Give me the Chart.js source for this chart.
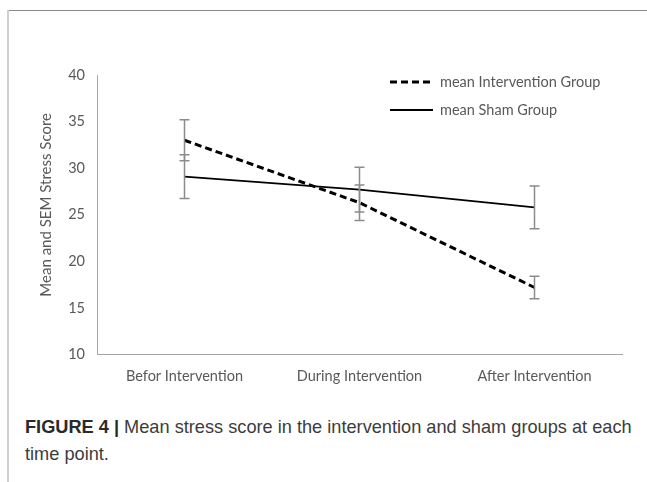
<!DOCTYPE html>
<html>
<head>
<meta charset="utf-8">
<script src="https://cdn.jsdelivr.net/npm/chart.js@4/dist/chart.umd.min.js"></script>
<style>
  html, body { margin: 0; padding: 0; background: #fff; }
  #wrap { position: relative; width: 647px; height: 482px; overflow: hidden; }
  #frameTop { position: absolute; left: 8px; top: 10px; width: 639px; height: 1px; background: #8a8a8a; }
  #frameLeft { position: absolute; left: 7px; top: 10px; width: 2px; height: 472px; background: #cfcfcf; }
  #chart { position: absolute; left: 0; top: 0; }
  #caption { position: absolute; left: 25px; top: 414px; width: 616px; font-family: "Liberation Sans Narrow", "Liberation Sans", Arial, sans-serif; font-size: 18.2px; line-height: 27px; color: #3c3c3c; }
  #caption b { color: #2a2a2a; }
</style>
</head>
<body>
<div id="wrap">
  <div id="frameTop"></div>
  <div id="frameLeft"></div>
  <canvas id="chart" width="647" height="400"></canvas>
  <div id="caption"><b>FIGURE 4 |</b> Mean stress score in the intervention and sham groups at each time point.</div>
</div>
<script>
// categories (time points)
var timePoints = ["Befor Intervention", "During Intervention", "After Intervention"];

// means and SEM
var interventionMean = [33.0, 26.3, 17.2];
var interventionSem = [2.2, 1.9, 1.2];
var shamMean = [29.1, 27.7, 25.8];
var shamSem = [2.35, 2.4, 2.3];

var yTicks = [10, 15, 20, 25, 30, 35, 40];
var yTitle = "Mean and SEM Stress Score";

var textColor = "#595959";
var fontFamily = "Lato, 'Open Sans', sans-serif";

// error bars drawn through the chart scales
var errorBars = {
  id: "errorBars",
  afterDatasetsDraw: function(chart) {
    var ctx = chart.ctx;
    var xs = chart.scales.x, ys = chart.scales.y;
    var sets = [[interventionMean, interventionSem], [shamMean, shamSem]];
    ctx.save();
    ctx.strokeStyle = "#8c8c8c";
    ctx.lineWidth = 1.5;
    sets.forEach(function(s) {
      s[0].forEach(function(m, i) {
        var x = xs.getPixelForValue(i);
        var yTop = ys.getPixelForValue(m + s[1][i]);
        var yBot = ys.getPixelForValue(m - s[1][i]);
        ctx.beginPath();
        ctx.moveTo(x, yTop); ctx.lineTo(x, yBot);
        ctx.moveTo(x - 5, yTop); ctx.lineTo(x + 5, yTop);
        ctx.moveTo(x - 5, yBot); ctx.lineTo(x + 5, yBot);
        ctx.stroke();
      });
    });
    ctx.restore();
  }
};

// legend placed inside the plot, top right, plus the y axis title
var lineLegend = {
  id: "lineLegend",
  afterDraw: function(chart) {
    var ctx = chart.ctx;
    ctx.save();
    chart.data.datasets.forEach(function(ds, i) {
      var y = 82 + i * 28;
      ctx.beginPath();
      ctx.strokeStyle = ds.borderColor;
      ctx.lineWidth = ds.borderWidth;
      ctx.setLineDash(ds.borderDash || []);
      ctx.moveTo(390, y); ctx.lineTo(433, y);
      ctx.stroke();
      ctx.setLineDash([]);
      ctx.fillStyle = textColor;
      ctx.font = "14.5px " + fontFamily;
      ctx.textBaseline = "middle";
      ctx.fillText(ds.label, 440, y);
    });
    // y title, a bit above the plot centre as in the original
    var area = chart.chartArea;
    ctx.translate(46, (area.top + area.bottom) / 2 - 10);
    ctx.rotate(-Math.PI / 2);
    ctx.font = "15px " + fontFamily;
    ctx.fillStyle = textColor;
    ctx.textAlign = "center";
    ctx.textBaseline = "middle";
    ctx.fillText(yTitle, 0, 0);
    ctx.restore();
  }
};

var data = {
  labels: timePoints,
  datasets: [
    {
      label: "mean Intervention Group",
      data: interventionMean,
      borderColor: "#000",
      borderWidth: 3,
      borderDash: [7, 4],
      fill: false,
      lineTension: 0,
      pointRadius: 0
    },
    {
      label: "mean Sham Group",
      data: shamMean,
      borderColor: "#000",
      borderWidth: 1.8,
      fill: false,
      lineTension: 0,
      pointRadius: 0
    }
  ]
};

var options = {
  responsive: false,
  animation: false,
  layout: { padding: { left: 37, right: 25, top: 75, bottom: 2 } },
  plugins: {
    legend: { display: false },
    tooltip: { enabled: false }
  },
  scales: {
    x: {
      offset: true,
      grid: { display: false, drawTicks: false },
      border: { display: true, color: "#a6a6a6", width: 1 },
      ticks: { color: textColor, font: { family: fontFamily, size: 14.5 }, padding: 13, maxRotation: 0 }
    },
    y: {
      min: 10,
      max: 40,
      afterBuildTicks: function(scale) {
        scale.ticks = yTicks.map(function(v) { return { value: v }; });
      },
      afterFit: function(scale) { scale.width = 60; },
      grid: { display: false, drawTicks: false },
      border: { display: true, color: "#a6a6a6", width: 1 },
      ticks: { color: textColor, font: { family: fontFamily, size: 14.5 }, padding: 12 }
    }
  }
};

var chart = new Chart(document.getElementById("chart"), {
  type: "line",
  data: data,
  options: options,
  plugins: [errorBars, lineLegend]
});
</script>
</body>
</html>
